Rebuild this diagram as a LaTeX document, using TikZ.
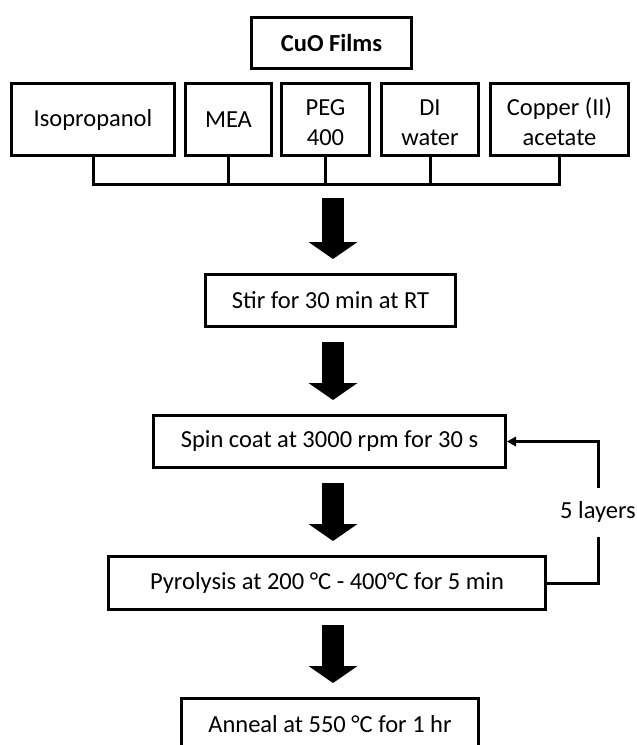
\documentclass[tikz,border=0pt]{standalone}
\usepackage{fontspec}
\setmainfont{Carlito}
\usetikzlibrary{arrows.meta, positioning}

\tikzset{
  box/.style={draw, line width=3pt, minimum height=52pt, inner sep=2pt, align=center},
  row/.style={box, minimum height=72pt},
  tworow/.style={row, text height=51pt, text depth=0pt},
  link/.style={line width=3pt},
  fat/.style={line width=22pt, -{Triangle[width=49pt,length=17pt,line width=0pt]},
    shorten <=14pt, shorten >=14pt},
  loop/.style={line width=3pt, -{Triangle[width=10pt,length=9pt,line width=0pt]}}
}

\begin{document}
\begin{tikzpicture}
	[x=1pt, y=-1pt, font=\fontsize{24.5}{30}\selectfont]
   \clip (0,0) rectangle (637,745);
   % title and ingredients
   \node[box, minimum width=160pt, minimum height=51pt] (films) at (331.5,43) {\textbf{CuO Films}};
   \node[row, minimum width=163pt] (iso) at (93,119.5) {Isopropanol};
   \node[row, minimum width=86pt] (mea) at (228.5,119.5) {MEA};
   \node[tworow, minimum width=88pt] (peg) at (325.5,119.5) {PEG\\400};
   \node[tworow, minimum width=97pt] (di) at (430,119.5) {DI\\water};
   \node[tworow, minimum width=138pt] (cu) at (559.5,119.5) {Copper (II)\\acetate};
   \coordinate (bus) at (0,184);
   \coordinate (hub) at (333,184);
   % process steps
   \node[box, minimum width=250pt] (stir) at (330.5,300.5) {Stir for 30 min at RT};
   \node[box, minimum width=352pt] (spin) at (329.5,441.5) {Spin coat at 3000 rpm for 30 s};
   \node[box, minimum width=437pt, minimum height=53pt] (pyro) at (327,583) {Pyrolysis at 200 °C - 400°C for 5 min};
   \node[box, minimum width=297pt] (anneal) at (330,724.5) {Anneal at 550 °C for 1 hr};
   % mixing lines
   \draw[link] (iso.south) |- (bus -| cu.south) -- (cu.south);
   \foreach \n in {mea, peg, di}
     \draw[link] (\n.south) -- (\n.south |- bus);
   % flow
   \draw[fat] (hub) -- (hub |- stir.north);
   \draw[fat] (stir.south -| hub) -- (spin.north -| hub);
   \draw[fat] (spin.south -| hub) -- (pyro.north -| hub);
   \draw[fat] (pyro.south -| hub) -- (anneal.north -| hub);
   % repeat
   \draw[loop] (pyro.east) -- ++(51,0)
     |- node[pos=0.25, fill=white, inner xsep=1pt, inner ysep=14pt] (layers) {5 layers} (spin.east);
\end{tikzpicture}
\end{document}
